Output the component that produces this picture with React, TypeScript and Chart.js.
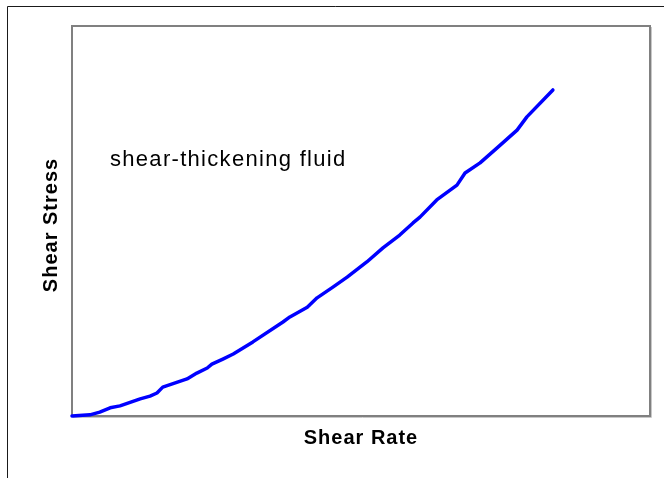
import React, { useEffect, useRef } from "react";
import { Chart, registerables } from "chart.js";

Chart.register(...registerables);

// Shear rate (x) and shear stress (y) (arbitrary units 0-100)
const shearRate: number[] = [
  0, 3.1, 4.8, 6.6, 8.3, 11.8, 13.5, 14.7, 15.7, 19.9, 21.6, 23.4, 24.2, 26.1, 27.9,
  31.3, 36.5, 37.7, 40.7, 42.4, 45.2, 47.6, 51.0, 53.8, 56.7, 59.0, 60.2, 63.1, 66.6,
  68.0, 70.6, 73.5, 77.0, 78.7, 83.2,
];
const shearStress: number[] = [
  0, 0.3, 1.0, 2.1, 2.6, 4.4, 5.1, 5.9, 7.4, 9.5, 11.0, 12.3, 13.3, 14.6, 15.9,
  19.0, 24.1, 25.4, 27.9, 30.3, 33.1, 35.6, 39.5, 43.1, 46.4, 49.5, 51.0, 55.4, 59.2,
  62.3, 64.9, 68.7, 73.3, 76.7, 83.6,
];
const xTitle = "Shear Rate";
const yTitle = "Shear Stress";
const annotation = "shear-thickening fluid";

const decorPlugin = {
  id: "decor",
  beforeDatasetsDraw(chart: any) {
    const { ctx, chartArea } = chart;
    const { left, top, right, bottom } = chartArea;
    ctx.save();
    // outer frame
    ctx.strokeStyle = "#1a1a1a";
    ctx.lineWidth = 1;
    ctx.beginPath();
    ctx.moveTo(7.5, 478);
    ctx.lineTo(7.5, 6.5);
    ctx.lineTo(664, 6.5);
    ctx.stroke();
    // plot area frame
    ctx.strokeStyle = "#c8c8c8";
    ctx.lineWidth = 1;
    ctx.beginPath();
    ctx.moveTo(right + 1.5, top + 1);
    ctx.lineTo(right + 1.5, bottom + 1.5);
    ctx.lineTo(left + 1, bottom + 1.5);
    ctx.stroke();
    ctx.strokeStyle = "#808080";
    ctx.lineWidth = 2;
    ctx.strokeRect(left, top, right - left, bottom - top);

    // titles
    ctx.fillStyle = "#000000";
    (ctx as any).letterSpacing = "1px";
    ctx.font = "bold 20px 'Liberation Sans', Arial, sans-serif";
    ctx.textAlign = "center";
    ctx.textBaseline = "alphabetic";
    ctx.fillText(xTitle, 361, 443.5);
    ctx.save();
    ctx.translate(57, 225);
    ctx.rotate(-Math.PI / 2);
    ctx.fillText(yTitle, 0, 0);
    ctx.restore();

    ctx.font = "22px 'Liberation Sans', Arial, sans-serif";
    (ctx as any).letterSpacing = "1.3px";
    ctx.textAlign = "left";
    ctx.fillText(annotation, 110, 166);
    ctx.restore();
  },
};

export default function App() {
  const ref = useRef<HTMLCanvasElement | null>(null);
  useEffect(() => {
    document.body.style.margin = "0";
    const canvas = ref.current!;
    const chart = new Chart(canvas, {
      type: "line",
      data: {
        datasets: [
          {
            data: shearRate.map((x, i) => ({ x, y: shearStress[i] })),
            borderColor: "#0000ff",
            borderWidth: 3.5,
            borderJoinStyle: "round",
            borderCapStyle: "round",
            pointRadius: 0,
            tension: 0,
            fill: false,
            clip: 4,
          } as any,
        ],
      },
      options: {
        responsive: false,
        animation: false,
        devicePixelRatio: 1,
        layout: { padding: { left: 72, top: 26, right: 14, bottom: 62 } },
        plugins: { legend: { display: false }, tooltip: { enabled: false } },
        scales: {
          x: { type: "linear", min: 0, max: 100, display: false },
          y: { type: "linear", min: 0, max: 100, display: false },
        },
      },
      plugins: [decorPlugin],
    });
    return () => chart.destroy();
  }, []);
  return (
    <div style={{ position: "fixed", left: 0, top: 0, width: 664, height: 478, background: "#fff" }}>
      <canvas ref={ref} width={664} height={478} style={{ width: 664, height: 478, display: "block" }} />
    </div>
  );
}
